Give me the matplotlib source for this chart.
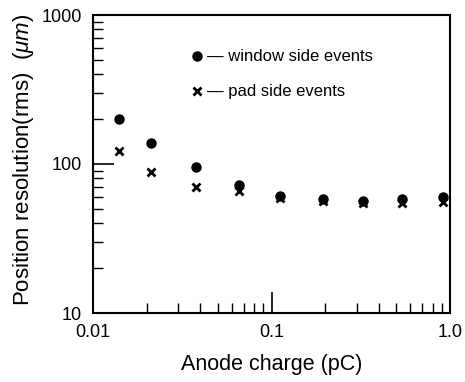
import numpy as np
import matplotlib
matplotlib.use("Agg")
import matplotlib.pyplot as plt

plt.rcParams['font.family'] = ['Liberation Sans', 'DejaVu Sans']
plt.rcParams['mathtext.fontset'] = 'custom'
plt.rcParams['mathtext.it'] = 'Liberation Sans:italic'

# data
charge = [0.014, 0.021, 0.038, 0.066, 0.112, 0.194, 0.324, 0.541, 0.91]
window_side = [202, 138, 96, 72, 61, 58, 56.5, 58, 59.7]
pad_side = [123, 89, 70, 66, 59.4, 56.5, 55, 54.6, 55.3]

fig = plt.figure(figsize=(4.65, 3.82), dpi=100)
ax = fig.add_axes([93/465, 1-313/382, 357/465, 298/382])

ax.plot(charge, window_side, 'o', color='black', ms=6.5, ls='none',
        label=u'\u2014 window side events')
ax.plot(charge, pad_side, 'x', color='black', ms=6, mew=2, ls='none',
        label=u'\u2014 pad side events')

ax.set_xscale('log')
ax.set_yscale('log')
ax.set_xlim(0.01, 1.0)
ax.set_ylim(10, 1000)

ax.set_xticks([0.01, 0.1, 1.0])
ax.set_xticklabels(['0.01', '0.1', '1.0'])
ax.set_yticks([10, 100, 1000])
ax.set_yticklabels(['10', '100', '1000'])

ax.tick_params(which='major', direction='in', length=15, width=1.2,
               labelsize=13, top=False, right=False, pad=8)
ax.tick_params(which='minor', direction='in', length=7, width=1.0,
               top=False, right=False)
for s in ax.spines.values():
    s.set_linewidth(1.5)

ax.set_xlabel('Anode charge (pC)', fontsize=15.5, labelpad=9)
ax.set_ylabel(r'Position resolution(rms)  ($\mu m$)', fontsize=16)
ax.yaxis.set_label_coords(-0.16, 0.515)

ax.legend(loc='upper left', bbox_to_anchor=(0.235, 0.935), frameon=False,
          numpoints=1, handlelength=0.6, handletextpad=0.3, labelspacing=1.2,
          fontsize=12)

fig.savefig('out.png', dpi=100)
